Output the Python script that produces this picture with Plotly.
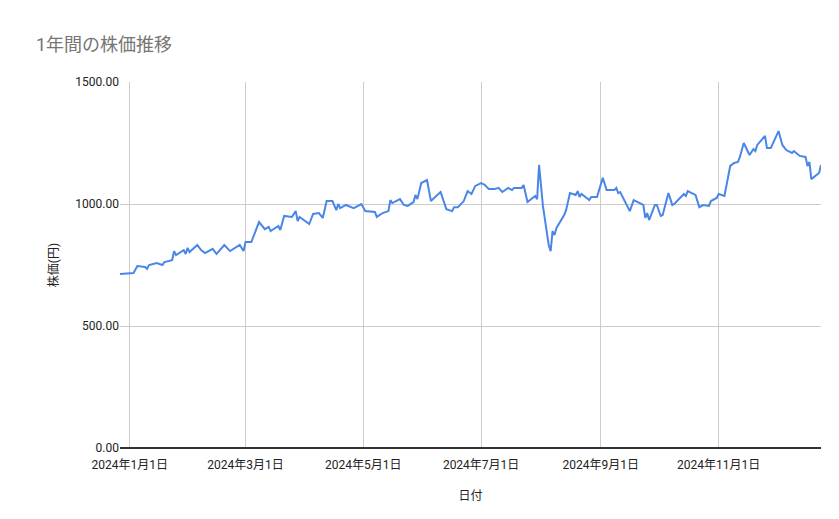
import plotly.graph_objects as go

dates = ["2023-12-26","2024-01-03","2024-01-05","2024-01-09","2024-01-10","2024-01-11","2024-01-15","2024-01-18","2024-01-19","2024-01-23",
"2024-01-24","2024-01-25","2024-01-29","2024-01-30","2024-01-31","2024-02-01","2024-02-05","2024-02-07","2024-02-09","2024-02-13",
"2024-02-15","2024-02-17","2024-02-19","2024-02-22","2024-02-27","2024-02-29","2024-03-01","2024-03-04","2024-03-08","2024-03-11",
"2024-03-13","2024-03-14","2024-03-18","2024-03-19","2024-03-21","2024-03-25","2024-03-27","2024-03-28","2024-03-29","2024-04-03",
"2024-04-05","2024-04-08","2024-04-10","2024-04-12","2024-04-15","2024-04-17","2024-04-18","2024-04-19","2024-04-22","2024-04-26",
"2024-04-30","2024-05-02","2024-05-07","2024-05-08","2024-05-11","2024-05-14","2024-05-15","2024-05-16","2024-05-20","2024-05-22",
"2024-05-24","2024-05-27","2024-05-28","2024-05-29","2024-05-31","2024-06-03","2024-06-05","2024-06-10","2024-06-13","2024-06-16",
"2024-06-17","2024-06-19","2024-06-22","2024-06-24","2024-06-25","2024-06-26","2024-06-28","2024-07-01","2024-07-03","2024-07-05",
"2024-07-08","2024-07-10","2024-07-12","2024-07-15","2024-07-17","2024-07-18","2024-07-22","2024-07-23","2024-07-25","2024-07-29",
"2024-07-30","2024-07-31","2024-08-02","2024-08-05","2024-08-06","2024-08-07","2024-08-08","2024-08-09","2024-08-13","2024-08-14",
"2024-08-16","2024-08-19","2024-08-20","2024-08-21","2024-08-22","2024-08-26","2024-08-27","2024-08-30","2024-09-02","2024-09-04",
"2024-09-08","2024-09-09","2024-09-10","2024-09-11","2024-09-16","2024-09-18","2024-09-23","2024-09-24","2024-09-25","2024-09-26",
"2024-09-29","2024-09-30","2024-10-02","2024-10-03","2024-10-06","2024-10-08","2024-10-09","2024-10-14","2024-10-15","2024-10-16",
"2024-10-20","2024-10-22","2024-10-24","2024-10-27","2024-10-28","2024-10-31","2024-11-01","2024-11-04","2024-11-07","2024-11-09",
"2024-11-11","2024-11-12","2024-11-14","2024-11-17","2024-11-19","2024-11-20","2024-11-21","2024-11-25","2024-11-26","2024-11-28",
"2024-12-02","2024-12-04","2024-12-06","2024-12-09","2024-12-10","2024-12-13","2024-12-16","2024-12-17","2024-12-18","2024-12-19",
"2024-12-23","2024-12-24"]
prices = [713,717,746,742,734,750,758,750,762,770,
807,791,811,795,820,803,832,811,799,816,
795,816,832,807,832,807,844,844,926,897,
906,889,910,893,951,947,971,930,947,918,
959,963,943,1012,1012,975,1000,983,996,983,
1000,971,967,947,963,971,1016,1004,1020,996,
992,1008,1037,1020,1086,1098,1012,1049,979,971,
987,987,1012,1053,1045,1041,1074,1086,1078,1061,
1061,1066,1049,1066,1057,1066,1066,1078,1008,1033,
1020,1160,992,832,807,889,873,902,955,975,
1045,1037,1053,1029,1041,1016,1029,1029,1107,1057,
1057,1066,1045,1049,971,1016,996,943,963,934,
996,996,951,955,1045,996,1000,1041,1033,1053,
1037,987,996,992,1012,1025,1041,1033,1156,1168,
1172,1193,1250,1201,1225,1217,1242,1279,1229,1229,
1299,1242,1221,1209,1217,1197,1193,1156,1172,1102,
1127,1160]

tick_vals = ["2024-01-01","2024-03-01","2024-05-01","2024-07-01","2024-09-01","2024-11-01"]
tick_text = ["2024年1月1日","2024年3月1日","2024年5月1日","2024年7月1日","2024年9月1日","2024年11月1日"]
y_ticks = [0, 500, 1000, 1500]

fig = go.Figure(go.Scatter(x=dates, y=prices, mode="lines",
                           line=dict(color="#4a86e8", width=2)))
font = "Roboto, Noto Sans CJK JP, sans-serif"
fig.update_layout(
    width=839, height=519, paper_bgcolor="white", plot_bgcolor="white",
    margin=dict(l=112, r=26, t=74, b=79),
    font=dict(family=font, size=12, color="#222"),
    title=dict(text="1年間の株価推移", x=28/839, xref="container", xanchor="left",
               y=0.93, yref="container", yanchor="middle",
               font=dict(size=18, color="#757575", family=font)),
    showlegend=False,
)
fig.update_xaxes(range=["2023-12-27", "2024-12-24"], tickvals=tick_vals, ticktext=tick_text,
                 showgrid=True, gridcolor="#cccccc", zeroline=False, showline=False,
                 automargin=False, ticks="outside", ticklen=6, tickcolor="rgba(0,0,0,0)",
                 title=dict(text="日付", font=dict(size=12), standoff=20), tickfont=dict(size=12))
fig.update_yaxes(range=[0, 1500], tickvals=y_ticks, tickformat=".2f", automargin=False,
                 showgrid=True, gridcolor="#cccccc", zeroline=True, zerolinecolor="#333",
                 title=dict(text="株価(円)", font=dict(size=12), standoff=14), tickfont=dict(size=12))
fig.write_html("out.html")
